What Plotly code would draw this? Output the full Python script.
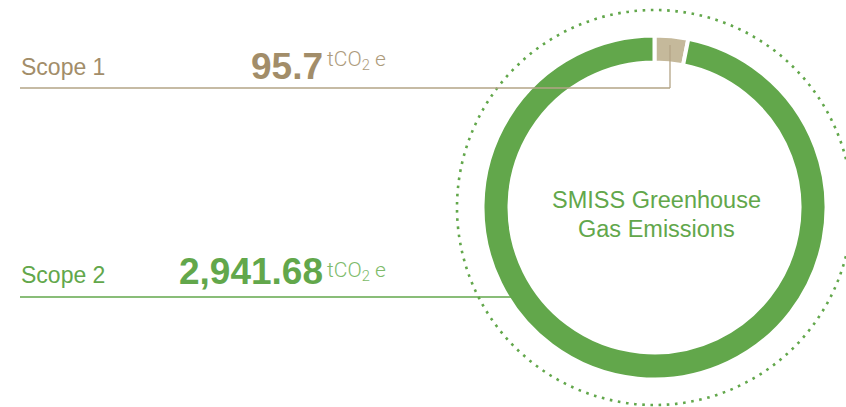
import plotly.graph_objects as go

# data
scopes = ["Scope 1", "Scope 2"]
emissions = [95.7, 2941.68]
unit = "tCO<sub>2</sub> e"
centre_title = ["SMISS Greenhouse", "Gas Emissions"]

W, H = 846, 407
GREEN = "#62a74b"
TAN = "#c5b99b"
TAN_TEXT = "#a28d69"
TAN_LINE = "#b3a486"
TAN_UNIT = "#ad9b7c"
GREEN_UNIT = "#7dbb6a"


def px(x):
    return x / W


def py(y):
    return 1 - y / H


# ring geometry in pixels
cx, cy, r_out, r_in = 654.5, 207.5, 172, 145
dot_r = 197.5

fig = go.Figure(
    go.Pie(
        values=emissions,
        labels=scopes,
        sort=False,
        direction="clockwise",
        rotation=0,
        hole=r_in / r_out,
        textinfo="none",
        marker=dict(colors=[TAN, GREEN], line=dict(color="white", width=4)),
        domain=dict(
            x=[px(cx - r_out), px(cx + r_out)],
            y=[py(cy + r_out), py(cy - r_out)],
        ),
        showlegend=False,
        hoverinfo="label+value",
    )
)

shapes = [
    # dotted outer circle
    dict(
        type="circle", xref="paper", yref="paper",
        x0=px(cx - dot_r), x1=px(cx + dot_r),
        y0=py(cy + dot_r), y1=py(cy - dot_r),
        line=dict(color=GREEN, width=2.6, dash="2.6px,5.6px"),
    ),
    # scope 1 leader
    dict(type="line", xref="paper", yref="paper",
         x0=px(20), x1=px(670), y0=py(88), y1=py(88),
         line=dict(color=TAN_LINE, width=1.3)),
    dict(type="line", xref="paper", yref="paper",
         x0=px(670), x1=px(670), y0=py(88), y1=py(45),
         line=dict(color=TAN_LINE, width=1.3)),
    # scope 2 leader
    dict(type="line", xref="paper", yref="paper",
         x0=px(20), x1=px(511), y0=py(297), y1=py(297),
         line=dict(color=GREEN, width=1.3)),
]

label_font = "Liberation Sans, Arial, sans-serif"
num_font = "Liberation Sans, Arial, sans-serif"
unit_font = "Roboto, sans-serif"

rows = [
    # (label colour, number colour, unit colour, label y, number y, unit y)
    (TAN_TEXT, TAN_TEXT, TAN_UNIT, 66.5, 66.7, 61),
    (GREEN, GREEN, GREEN_UNIT, 275, 271.5, 271),
]

annotations = []
for name, val, (lc, nc, uc, ly, ny, uy) in zip(scopes, emissions, rows):
    annotations.append(dict(
        text=name, x=px(19), y=py(ly), xref="paper", yref="paper",
        xanchor="left", yanchor="middle", showarrow=False,
        font=dict(family=label_font, size=23, color=lc),
    ))
    annotations.append(dict(
        text=f"<b>{val:,}</b>", x=px(325), y=py(ny), xref="paper", yref="paper",
        xanchor="right", yanchor="middle", showarrow=False,
        font=dict(family=num_font, size=37, color=nc),
    ))
    annotations.append(dict(
        text=unit, x=px(325), y=py(uy), xref="paper", yref="paper",
        xanchor="left", yanchor="middle", showarrow=False,
        font=dict(family=unit_font, size=21, color=uc, weight=300),
    ))

for line, yy in zip(centre_title, [200.3, 229]):
    annotations.append(dict(
        text=line, x=px(656), y=py(yy), xref="paper", yref="paper",
        xanchor="center", yanchor="middle", showarrow=False,
        font=dict(family=label_font, size=23.5, color=GREEN),
    ))

fig.update_layout(
    width=W, height=H, autosize=False,
    margin=dict(l=0, r=0, t=0, b=0),
    paper_bgcolor="white", plot_bgcolor="white",
    shapes=shapes, annotations=annotations,
)

# the page body has a default 8px margin; drop it so the figure fills the window
fig.write_html(
    "out.html",
    config={"displayModeBar": False},
    post_script="document.body.style.margin = '0px';",
)
